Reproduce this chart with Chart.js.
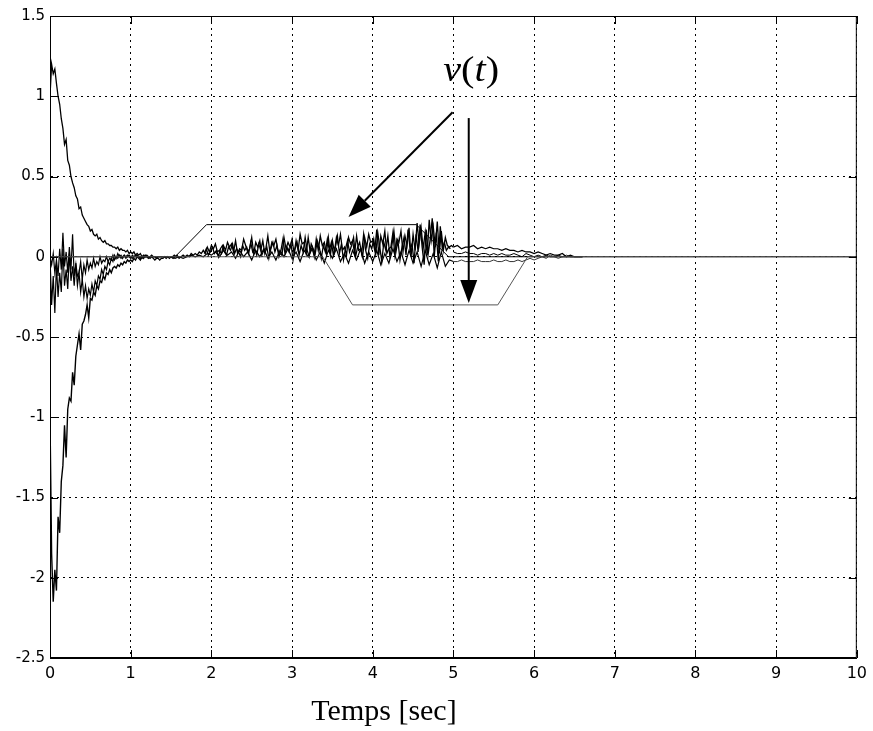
<!DOCTYPE html>
<html>
<head>
<meta charset="utf-8">
<script src="https://cdn.jsdelivr.net/npm/chart.js@4.4.0/dist/chart.umd.min.js"></script>
<style>
  html, body { margin: 0; padding: 0; background: #fff; }
  #wrap { width: 873px; height: 731px; }
</style>
</head>
<body>
<div id="wrap"><canvas id="plot" width="873" height="731"></canvas></div>
<script>
// axis ticks
const xTicks = [0, 1, 2, 3, 4, 5, 6, 7, 8, 9, 10];
const yTicks = [-2.5, -2, -1.5, -1, -0.5, 0, 0.5, 1, 1.5];

// transient part, sampled every 0.02 s from t = 0
const stepFast = 0.02;
const decayTop = [1.00, 1.20, 1.14, 1.17, 1.08, 1.00, 0.95, 0.86, 0.80, 0.70, 0.73, 0.60, 0.57, 0.50, 0.46, 0.43, 0.38, 0.36, 0.30, 0.31,
  0.26, 0.24, 0.22, 0.20, 0.19, 0.16, 0.17, 0.14, 0.13, 0.14, 0.11, 0.12, 0.10, 0.09, 0.10, 0.08, 0.08, 0.07, 0.07, 0.06,
  0.06, 0.05, 0.06, 0.04, 0.05, 0.04, 0.04, 0.03, 0.04, 0.02, 0.03,
  0.02, 0.03, 0.01, 0.02, 0.01, 0.02, 0.00, 0.01, 0.00, 0.01,
  0.00, -0.01, 0.00, -0.01, -0.02, -0.01, -0.01, -0.02, -0.01, -0.01, 0.00, -0.01, 0.00, -0.01, 0.00, 0.00, 0.01, 0.00, 0.00, 0.00];
const decayLow = [-1.00, -1.85, -2.15, -1.95, -2.08, -1.62, -1.72, -1.40, -1.30, -1.05, -1.25, -0.95, -0.88, -0.90, -0.72, -0.80, -0.62, -0.55, -0.48, -0.58,
  -0.42, -0.40, -0.36, -0.30, -0.38, -0.26, -0.27, -0.22, -0.24, -0.18, -0.20, -0.15, -0.16, -0.12, -0.14, -0.10, -0.11, -0.08, -0.10, -0.07,
  -0.06, -0.07, -0.05, -0.06, -0.04, -0.05, -0.03, -0.04, -0.02, -0.03, -0.02,
  -0.03, -0.01, -0.02, 0.00, -0.01, -0.02, 0.00, -0.01, 0.01, 0.00, -0.01, 0.00, 0.01, 0.00, 0.00, -0.01, 0.00, 0.00, 0.00, 0.00];
const dipA = [0.00, -0.30, -0.12, -0.35, -0.05, -0.25, -0.10, -0.22, 0.05, -0.18, -0.08, -0.20, 0.02, -0.15, -0.06, -0.18, -0.04, -0.12, -0.10, -0.03,
  -0.14, -0.05, -0.10, -0.02, -0.08, -0.04, -0.07, -0.01, -0.06, -0.03, -0.05, 0.00, -0.04, -0.02, -0.03, 0.00, -0.03, -0.01, -0.02, 0.01,
  -0.02, 0.00, -0.01, 0.01, -0.01, 0.00, 0.01, -0.01, 0.00, 0.01, 0.00, -0.01, 0.00, 0.01, 0.00, 0.00, -0.01, 0.00, 0.00, 0.00, 0.00];
const dipB = [0.00, -0.05, 0.02, -0.10, -0.02, -0.12, 0.05, -0.08, 0.15, -0.06, 0.03, -0.10, 0.06, -0.08, 0.14, -0.12, -0.05, -0.18, -0.10, -0.22,
  -0.14, -0.25, -0.18, -0.26, -0.20, -0.24, -0.17, -0.22, -0.15, -0.18, -0.12, -0.14, -0.08, -0.11, -0.06, -0.08, -0.03, -0.05, -0.01, -0.03,
  0.01, -0.01, 0.02, 0.00, 0.01, -0.01, 0.01, 0.00, 0.01, 0.00, -0.01, 0.01, 0.00, 0.00, 0.01, 0.00, 0.00, -0.01, 0.00, 0.00, 0.00];

// disturbed part: upper noise every 0.025 s and lower noise every 0.05 s from t = 1.5
const noiseStart = 1.5;
const noiseHi = [0.00, -0.01, 0.00, 0.01, -0.01, 0.00, 0.01, 0.00, 0.01, 0.00, 0.02, 0.01, 0.02, 0.01, 0.03, 0.02, 0.04,
  0.02, 0.06, 0.03, 0.07, 0.05, 0.08, 0.03, 0.04, 0.02, 0.07, 0.04, 0.09, 0.06, 0.08, 0.03, 0.10, 0.02, 0.05, 0.04, 0.11, 0.07, 0.03, 0.05, 0.12,
  0.02, 0.09, 0.06, 0.10, 0.01, 0.04, 0.05, 0.13, 0.03, 0.09, 0.07, 0.11, 0.04, 0.02, 0.01, 0.12, 0.05, 0.09, 0.06, 0.11,
  0.02, 0.10, 0.04, 0.14, 0.08, 0.09, 0.02, 0.12, 0.03, 0.06, 0.00, 0.11, 0.04, 0.13, 0.07, 0.09, 0.02, 0.12, 0.01, 0.10,
  0.03, 0.12, 0.07, 0.14, 0.04, 0.06, 0.01, 0.12, 0.08, 0.10, 0.02, 0.13, 0.04, 0.05, 0.00, 0.12, 0.06, 0.14, 0.09, 0.10,
  0.04, 0.17, 0.01, 0.13, 0.08, 0.16, 0.02, 0.05, 0.06, 0.15, 0.01, 0.11, 0.09, 0.16, 0.03, 0.13, 0.07, 0.18, 0.00, 0.14,
  0.04, 0.21, 0.08, 0.18, 0.05, 0.15, 0.01, 0.23, 0.10, 0.19, 0.06, 0.22, 0.02, 0.16, 0.04, 0.12, 0.07, 0.06, 0.07, 0.06];
const noiseMidStart = 1.9125;
const noiseMid = [0.02, 0.05, 0.01, 0.03, 0.06, 0.02, 0.04, 0.00, 0.05, 0.07, 0.03, 0.01, 0.06, 0.04, 0.08, 0.02, 0.05, 0.03, 0.00, 0.07, 0.04, 0.06, 0.02, 0.09,
  0.03, 0.05, 0.01, 0.08, 0.04, 0.10, 0.02, 0.06, -0.01, 0.05, 0.09, 0.03, 0.07, 0.00, 0.04, 0.11, 0.02, 0.06, 0.03, 0.08,
  -0.02, 0.05, 0.09, 0.01, 0.07, 0.03, 0.12, 0.04, 0.00, 0.08, 0.05, 0.02, 0.10, 0.06, -0.01, 0.07, 0.03, 0.11, 0.04, 0.09,
  0.01, 0.06, 0.13, 0.02, 0.08, -0.02, 0.05, 0.10, 0.03, 0.07, 0.12, 0.00, 0.06, 0.09, 0.02, 0.14, 0.04, -0.01, 0.08, 0.05,
  0.11, 0.02, 0.15, 0.06, -0.03, 0.09, 0.04, 0.13, 0.00, 0.07, 0.16, 0.03, 0.10, -0.02, 0.06, 0.12, 0.01, 0.17, 0.05, 0.08,
  -0.04, 0.14, 0.03, 0.20, 0.06, -0.05, 0.17, 0.02, 0.11, 0.24, 0.00, 0.15, -0.03, 0.19, 0.05, 0.09, 0.04, 0.06, 0.05];
const noiseLo = [0.00, -0.01, 0.00, -0.01, 0.00, 0.01, 0.00, 0.01, 0.00, 0.02, 0.01,
  0.03, 0.00, 0.04, 0.01, 0.03, -0.01, 0.04, 0.00, 0.03, -0.02,
  0.04, 0.00, 0.05, -0.01, 0.03, -0.02, 0.04, 0.00, 0.05, -0.01,
  0.03, -0.03, 0.04, 0.00, 0.05, -0.02, 0.03, -0.04, 0.04, -0.01,
  0.05, -0.03, 0.02, -0.04, 0.04, -0.02, 0.05, -0.04, 0.03, -0.03,
  0.04, -0.05, 0.02, -0.04, 0.05, -0.03, 0.03, -0.05, 0.04, -0.04,
  0.03, -0.06, 0.04, -0.05, 0.02, -0.07, 0.03, -0.06, -0.02, -0.03];

// settling after the disturbance, every 0.05 s from t = 5
const tailStart = 5.0;
const tailHi = [0.06, 0.07, 0.05, 0.06, 0.06, 0.07, 0.05, 0.06, 0.05, 0.06, 0.05, 0.05, 0.04, 0.05, 0.04, 0.04, 0.03, 0.04, 0.03, 0.03,
  0.02, 0.03, 0.02, 0.01, 0.02, 0.01, 0.01, 0.02, 0.00, 0.01, 0.00, 0.00, 0.00];
const tailMid = [0.03, 0.02, 0.02, 0.03, 0.02, 0.02, 0.01, 0.02, 0.02, 0.01, 0.02, 0.01, 0.02, 0.01, 0.01, 0.02, 0.01, 0.00, 0.02, 0.01,
  0.00, 0.01, 0.00, 0.01, 0.00, 0.00, 0.01, 0.00, 0.00, 0.00, 0.00, 0.00, 0.00];
const tailLo = [-0.03, -0.03, -0.02, -0.03, -0.03, -0.03, -0.02, -0.03, -0.03, -0.03, -0.02, -0.03, -0.03, -0.02, -0.03, -0.03, -0.02, -0.03, -0.02, -0.01,
  -0.02, -0.01, 0.00, -0.01, 0.01, 0.00, -0.01, 0.00, 0.01, 0.00, 0.00, 0.00, 0.00];

// v(t) disturbance profiles
const vUpT = [0, 1.55, 1.94, 4.54, 4.94, 10];
const vUpY = [0, 0, 0.2, 0.2, 0, 0];
const vDownT = [0, 3.38, 3.75, 5.55, 5.92, 10];
const vDownY = [0, 0, -0.3, -0.3, 0, 0];

// annotation arrows in data units [x0, y0, x1, y1]
const arrows = [[4.99, 0.90, 3.70, 0.247], [5.19, 0.864, 5.19, -0.288]];
const labelPos = [5.22, 1.15];

function sampleTimes(t0, dt, n) {
    return Array.from({ length: n }, (_, i) => +(t0 + i * dt).toFixed(4));
}
function toPoints(ts, ys) {
    return ys.map((y, i) => ({ x: ts[i], y: y }));
}
function series(ts, ys, color, width) {
    return {
        data: toPoints(ts, ys),
        borderColor: color || '#000',
        borderWidth: width || 1,
        pointRadius: 0,
        tension: 0,
        fill: false
    };
}

const tFast = sampleTimes(0, stepFast, 81);
const datasets = [
    series(vDownT, vDownY, '#555'),
    series(vUpT, vUpY, '#000'),
    series(tFast, decayTop, '#000', 1.3),
    series(tFast, decayLow, '#000', 1.4),
    series(tFast, dipA, '#000', 1.2),
    series(tFast, dipB, '#000', 1.2),
    series(sampleTimes(noiseStart, 0.025, noiseHi.length), noiseHi, '#000', 1.3),
    series(sampleTimes(noiseMidStart, 0.025, noiseMid.length), noiseMid, '#000', 1.3),
    series(sampleTimes(noiseStart, 0.05, noiseLo.length), noiseLo, '#000', 1.2),
    series(sampleTimes(tailStart, 0.05, tailHi.length), tailHi, '#000', 1.2),
    series(sampleTimes(tailStart, 0.05, tailMid.length), tailMid),
    series(sampleTimes(tailStart, 0.05, tailLo.length), tailLo, '#333')
];

function drawArrow(ctx, x0, y0, x1, y1) {
    const ang = Math.atan2(y1 - y0, x1 - x0);
    const len = 23, half = 8.5;
    const bx = x1 - len * Math.cos(ang), by = y1 - len * Math.sin(ang);
    ctx.beginPath();
    ctx.moveTo(x0, y0);
    ctx.lineTo(bx, by);
    ctx.stroke();
    ctx.beginPath();
    ctx.moveTo(x1, y1);
    ctx.lineTo(bx + half * Math.sin(ang), by - half * Math.cos(ang));
    ctx.lineTo(bx - half * Math.sin(ang), by + half * Math.cos(ang));
    ctx.closePath();
    ctx.fill();
}

// frame, inward ticks, arrows and labels
const decorations = {
    id: 'decorations',
    afterDatasetsDraw(chart) {
        const { ctx, chartArea: a, scales } = chart;
        const sx = scales.x, sy = scales.y;
        ctx.save();
        ctx.strokeStyle = '#000';
        ctx.fillStyle = '#000';
        ctx.lineWidth = 1;
        ctx.strokeRect(a.left + 0.5, a.top + 0.5, a.right - a.left - 1, a.bottom - a.top - 1);
        ctx.beginPath();
        xTicks.forEach(v => {
            const px = Math.round(sx.getPixelForValue(v)) + 0.5;
            ctx.moveTo(px, a.bottom); ctx.lineTo(px, a.bottom - 8);
            ctx.moveTo(px, a.top); ctx.lineTo(px, a.top + 8);
        });
        yTicks.forEach(v => {
            const py = Math.round(sy.getPixelForValue(v)) + 0.5;
            ctx.moveTo(a.left, py); ctx.lineTo(a.left + 8, py);
            ctx.moveTo(a.right, py); ctx.lineTo(a.right - 8, py);
        });
        ctx.stroke();

        ctx.lineWidth = 2;
        arrows.forEach(([x0, y0, x1, y1]) => {
            drawArrow(ctx, sx.getPixelForValue(x0), sy.getPixelForValue(y0),
                sx.getPixelForValue(x1), sy.getPixelForValue(y1));
        });

        // v(t) label, italic letters and upright brackets
        const parts = [['v', 'italic '], ['(', ''], ['t', 'italic '], [')', '']];
        const size = 35;
        let total = 0;
        parts.forEach(p => { ctx.font = p[1] + size + 'px "Liberation Serif"'; total += ctx.measureText(p[0]).width; });
        ctx.save();
        ctx.translate(sx.getPixelForValue(labelPos[0]), sy.getPixelForValue(labelPos[1]));
        ctx.scale(1.15, 1);
        let cx = -total / 2;
        ctx.textBaseline = 'middle';
        ctx.textAlign = 'left';
        parts.forEach(p => {
            ctx.font = p[1] + size + 'px "Liberation Serif"';
            ctx.fillText(p[0], cx, 0);
            cx += ctx.measureText(p[0]).width;
        });
        ctx.restore();

        ctx.font = '30px "Liberation Serif"';
        ctx.textAlign = 'center';
        ctx.textBaseline = 'alphabetic';
        ctx.fillText('Temps [sec]', 384, 720);
        ctx.restore();
    }
};

new Chart(document.getElementById('plot'), {
    type: 'line',
    data: { datasets: datasets },
    options: {
        responsive: false,
        animation: false,
        devicePixelRatio: 1,
        layout: { padding: { top: 16, right: 15, left: 0, bottom: 0 } },
        plugins: { legend: { display: false }, tooltip: { enabled: false } },
        scales: {
            x: {
                type: 'linear',
                min: 0,
                max: 10,
                afterFit: s => { s.height = 73; },
                afterBuildTicks: s => { s.ticks = xTicks.map(v => ({ value: v })); },
                grid: { color: '#000', lineWidth: 1, drawTicks: false },
                border: { display: true, color: '#000', dash: [2, 4] },
                ticks: { color: '#000', padding: 6, maxRotation: 0, font: { family: 'DejaVu Sans', size: 16 },
                    callback: v => String(v) }
            },
            y: {
                min: -2.5,
                max: 1.5,
                afterFit: s => { s.width = 50; },
                afterBuildTicks: s => { s.ticks = yTicks.map(v => ({ value: v })); },
                grid: { color: '#000', lineWidth: 1, drawTicks: false },
                border: { display: true, color: '#000', dash: [2, 4] },
                ticks: { color: '#000', padding: 5, font: { family: 'DejaVu Sans', size: 15 },
                    callback: v => String(v) }
            }
        }
    },
    plugins: [decorations]
});
</script>
</body>
</html>
